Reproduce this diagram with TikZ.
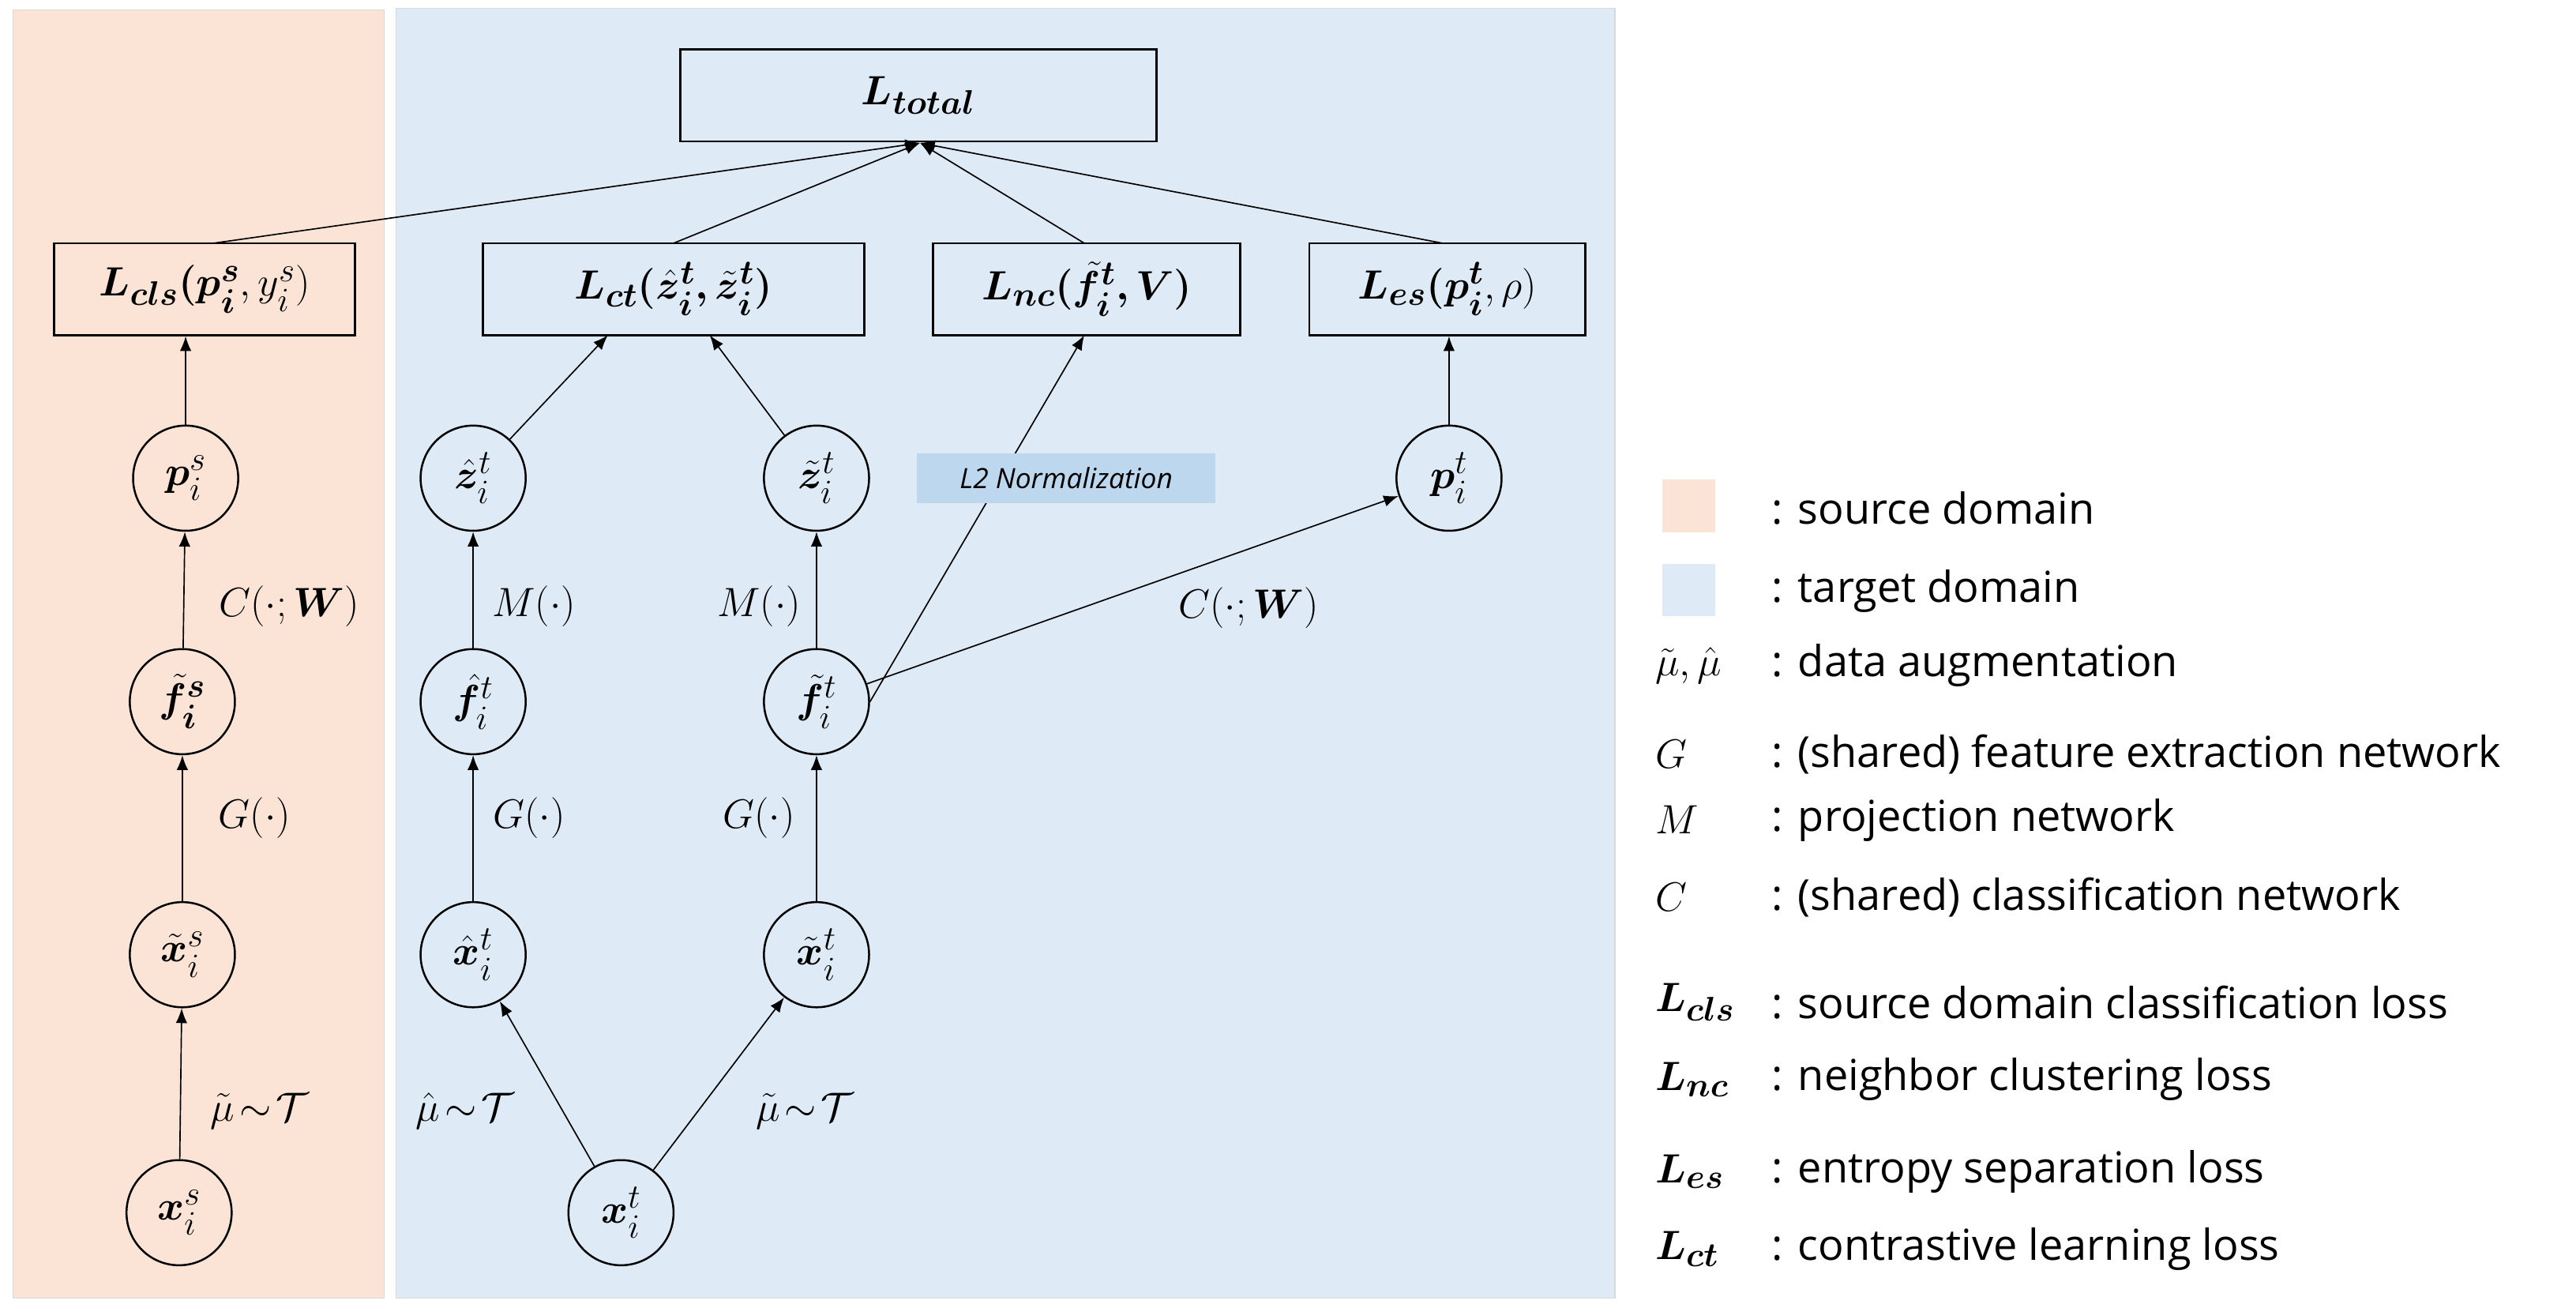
\documentclass[tikz,border=0pt]{standalone}
\usepackage{amsmath,amssymb,bm}
\usepackage{fontspec}
\setmainfont{Open Sans}
\usetikzlibrary{arrows.meta}
\definecolor{src}{RGB}{251,228,214}
\definecolor{tgt}{RGB}{222,234,246}
\definecolor{lbl}{RGB}{189,215,238}
\begin{document}
\begin{tikzpicture}[x=1pt,y=-1pt,
  every node/.style={font=\fontsize{31}{34}\selectfont},
  box/.style={draw,line width=1.2pt,minimum height=56pt,inner sep=0pt},
  cir/.style={draw,circle,line width=1.2pt,minimum size=64pt,inner sep=0pt},
  arr/.style={line width=0.8pt,-{Latex[length=9pt,width=7pt]}},
  lab/.style={font=\fontsize{30}{34}\selectfont},
  leg/.style={anchor=west,font=\fontsize{26}{30}\selectfont}]
\useasboundingbox (0,0) rectangle (1568,796);
\fill[src] (8,6) rectangle (234,790);
\draw[white!85!black,line width=0.5pt] (8,6) rectangle (234,790);
\fill[tgt] (241,5) rectangle (983,790);
\draw[white!85!black,line width=0.5pt] (241,5) rectangle (983,790);
% boxes
\node[box,minimum width=290pt] (tot) at (559,58) {$\bm{L_{total}}$};
\node[box,minimum width=183pt] (cls) at (124.5,176) {$\bm{L_{cls}(p_i^s},y_i^s)$};
\node[box,minimum width=232pt] (ct) at (410,176) {$\bm{L_{ct}(\hat z_i^t,\tilde z_i^t)}$};
\node[box,minimum width=187pt] (nc) at (661.5,176) {$\bm{L_{nc}(\tilde f_i^t,V)}$};
\node[box,minimum width=168pt] (es) at (881,176) {$\bm{L_{es}(p_i^t},\rho)$};
% circles
\node[cir] (ps) at (113,291) {$\bm{p}_i^s$};
\node[cir] (fs) at (111,427) {$\bm{\tilde f_i^s}$};
\node[cir] (xts) at (111,581) {$\bm{\tilde x}_i^s$};
\node[cir] (xs) at (109,738) {$\bm{x}_i^s$};
\node[cir] (zh) at (288,291) {$\bm{\hat z}_i^t$};
\node[cir] (zt) at (497,291) {$\bm{\tilde z}_i^t$};
\node[cir] (pt) at (882,291) {$\bm{p}_i^t$};
\node[cir] (fh) at (288,427) {$\bm{\hat f}_i^t$};
\node[cir] (ft) at (497,427) {$\bm{\tilde f}_i^t$};
\node[cir] (xh) at (288,581) {$\bm{\hat x}_i^t$};
\node[cir] (xt2) at (497,581) {$\bm{\tilde x}_i^t$};
\node[cir] (xt) at (378,738) {$\bm{x}_i^t$};
% arrows to total
\coordinate (tb) at (560,87);
\draw[arr] (130,148) -- (tb);
\draw[arr] (410,148) -- (tb);
\draw[arr] (660,148) -- (tb);
\draw[arr] (878,148) -- (tb);
% arrows
\draw[arr] (ps) -- (cls.south-|ps);
\draw[arr] (fs) -- (ps);
\draw[arr] (xts) -- (fs);
\draw[arr] (xs) -- (xts);
\draw[arr] (zh) -- (370,204);
\draw[arr] (zt) -- (432,204);
\draw[arr] (fh) -- (zh);
\draw[arr] (ft) -- (zt);
\draw[arr] (xh) -- (fh);
\draw[arr] (xt2) -- (ft);
\draw[arr] (xt) -- (xh);
\draw[arr] (xt) -- (xt2);
\draw[arr] (ft) -- (pt);
\draw[arr] (ft.east) -- (660,204);
\draw[arr] (pt) -- (pt|-es.south);
\node[fill=lbl,minimum width=182pt,minimum height=30pt,inner sep=0pt,font=\fontsize{17}{20}\selectfont\itshape] (l2) at (649,291) {L2 Normalization};
% labels
\node[lab] (c1) at (176,369) {$C(\cdot;\bm{W})$};
\node[lab] (g1) at (155,498) {$G(\cdot)$};
\node[lab] (m1) at (158,676) {$\tilde\mu\!\sim\!\mathcal{T}$};
\node[lab] (m2) at (325,369) {$M(\cdot)$};
\node[lab] (m3) at (462,369) {$M(\cdot)$};
\node[lab] (g2) at (322,498) {$G(\cdot)$};
\node[lab] (g3) at (462,498) {$G(\cdot)$};
\node[lab] (u2) at (283,676) {$\hat\mu\!\sim\!\mathcal{T}$};
\node[lab] (u3) at (490,676) {$\tilde\mu\!\sim\!\mathcal{T}$};
\node[lab] (c2) at (760,370) {$C(\cdot;\bm{W})$};
% legend
\fill[src] (1012,292) rectangle (1044,324);
\fill[tgt] (1012,343) rectangle (1044,375);
\node[leg] (a1) at (1075,309) {: source domain};
\node[leg] (a2) at (1075,360) {: target domain};
\node[leg,font=\fontsize{28}{30}\selectfont] (s3) at (1004,405) {$\tilde\mu,\hat\mu$};
\node[leg] (a3) at (1075,405) {: data augmentation};
\node[leg,font=\fontsize{28}{30}\selectfont] (s4) at (1004,459) {$G$};
\node[leg] (a4) at (1075,459) {: (shared) feature extraction network};
\node[leg,font=\fontsize{28}{30}\selectfont] (s5) at (1004,499) {$M$};
\node[leg] (a5) at (1075,499) {: projection network};
\node[leg,font=\fontsize{28}{30}\selectfont] (s6) at (1004,546) {$C$};
\node[leg] (a6) at (1075,546) {: (shared) classification network};
\node[leg,font=\fontsize{28}{30}\selectfont] (s7) at (1004,610) {$\bm{L_{cls}}$};
\node[leg] (a7) at (1075,610) {: source domain classification loss};
\node[leg,font=\fontsize{28}{30}\selectfont] (s8) at (1004,657) {$\bm{L_{nc}}$};
\node[leg] (a8) at (1075,657) {: neighbor clustering loss};
\node[leg,font=\fontsize{28}{30}\selectfont] (s9) at (1004,713) {$\bm{L_{es}}$};
\node[leg] (a9) at (1075,713) {: entropy separation loss};
\node[leg,font=\fontsize{28}{30}\selectfont] (s10) at (1004,760) {$\bm{L_{ct}}$};
\node[leg] (a10) at (1075,760) {: contrastive learning loss};
\end{tikzpicture}
\end{document}
